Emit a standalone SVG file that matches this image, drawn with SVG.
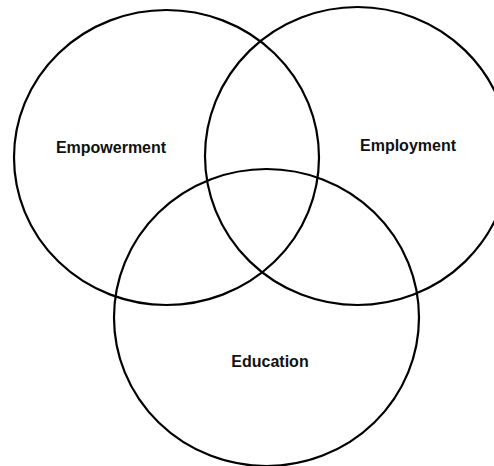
<svg xmlns="http://www.w3.org/2000/svg" width="494" height="466" viewBox="0 0 494 466">
  <style>
    .ring { fill: none; stroke: #000; stroke-width: 2.2; }
    .label { font-family: "Liberation Sans", Arial, sans-serif; font-size: 16px; font-weight: bold; fill: #111; text-anchor: middle; }
  </style>
  <rect width="494" height="466" fill="#fff"/>
  <g id="empowerment">
    <ellipse class="ring" cx="166.5" cy="157.5" rx="152.5" ry="147.5"/>
    <text class="label" x="111" y="153">Empowerment</text>
  </g>
  <g id="employment">
    <ellipse class="ring" cx="357.5" cy="156" rx="152.5" ry="149"/>
    <text class="label" x="408" y="151">Employment</text>
  </g>
  <g id="education">
    <ellipse class="ring" cx="266.5" cy="317.5" rx="152.5" ry="148.5"/>
    <text class="label" x="270" y="367">Education</text>
  </g>
  <g id="connectors"/>
</svg>
